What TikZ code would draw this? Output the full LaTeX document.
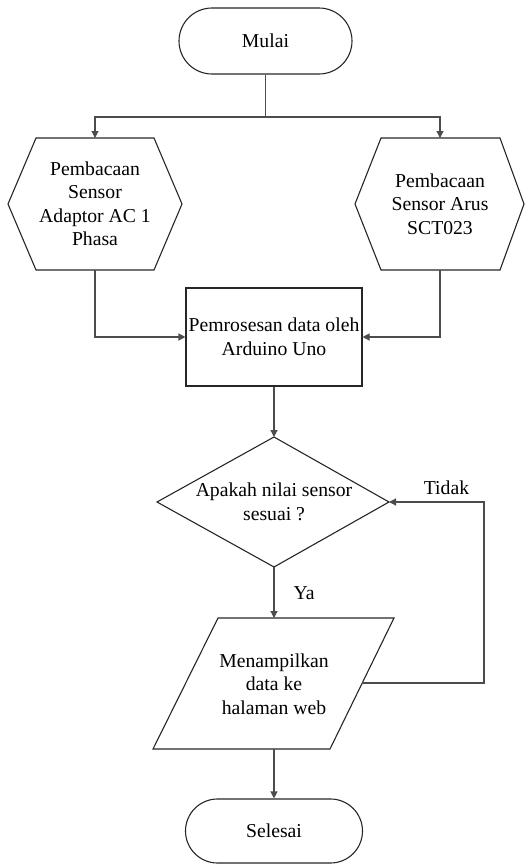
\documentclass[tikz,border=0pt]{standalone}
\usepackage{fontspec}
\setmainfont{Liberation Serif}
\newfontfamily\serfont{Liberation Serif}
\usetikzlibrary{shapes.misc,arrows.meta}
\begin{document}
\begin{tikzpicture}[x=1pt,y=-1pt,
  shapeline/.style={draw=black!85,line width=1.1pt},
  conn/.style={draw=black!70,line width=1.2pt},
  arr/.style={conn,-{Triangle[length=7pt,width=7pt]}},
  txt/.style={font=\serfont\fontsize{19.7}{23.5}\selectfont,align=center,inner sep=0pt},
  term/.style={shapeline,rounded rectangle,txt}]
\useasboundingbox (0,0) rectangle (531,865);
% terminals
\node[term,minimum width=173pt,minimum height=66pt] (mulai) at (265.5,41) {Mulai};
\node[term,minimum width=177pt,minimum height=64pt] (selesai) at (274,831) {Selesai};
% hexagons
\draw[shapeline] (36,138) -- (154,138) -- (182,204) -- (154,270) -- (36,270) -- (8,204) -- cycle;
\node[txt] (h1) at (95,204) {Pembacaan\\Sensor\\Adaptor AC 1\\Phasa};
\coordinate (h1t) at (95,138);
\coordinate (h1b) at (95,270);
\draw[shapeline] (381,138) -- (500,138) -- (524,204) -- (500,270) -- (381,270) -- (355,204) -- cycle;
\node[txt] (h2) at (440,204) {Pembacaan\\Sensor Arus\\SCT023};
\coordinate (h2t) at (440,138);
\coordinate (h2b) at (440,270);
% process
\node[shapeline,txt,minimum width=176pt,minimum height=98pt] (proc) at (274,337) {Pemrosesan data oleh\\Arduino Uno};
% decision
\draw[shapeline] (274,437) -- (389,502) -- (274,567) -- (157,502) -- cycle;
\node[txt] (dec) at (274,502) {Apakah nilai sensor\\sesuai ?};
\coordinate (dect) at (274,437);
\coordinate (decr) at (389,502);
\coordinate (decb) at (274,567);
% parallelogram
\draw[shapeline] (218,618) -- (394,618) -- (330,749) -- (153,749) -- cycle;
\node[txt] (out) at (274,684) {Menampilkan\\data ke\\halaman web};
\coordinate (outt) at (274,618);
\coordinate (outb) at (274,749);
\coordinate (outr) at (362,683);
\coordinate (loop) at (484,683);
% labels
\node[txt] (tidak) at (446.5,488) {Tidak};
\node[txt] (ya) at (304,593) {Ya};
% connectors
\coordinate (split) at (265.5,117);
\draw[conn] (mulai.south) -- (split);
\draw[arr] (split) -| (h1t);
\draw[arr] (split) -| (h2t);
\draw[arr] (h1b) |- (proc.west);
\draw[arr] (h2b) |- (proc.east);
\draw[arr] (proc.south) -- (dect);
\draw[arr] (decb) -- (outt);
\draw[arr] (outr) -- (loop) |- (decr);
\draw[arr] (outb) -- (selesai.north);
\end{tikzpicture}
\end{document}
